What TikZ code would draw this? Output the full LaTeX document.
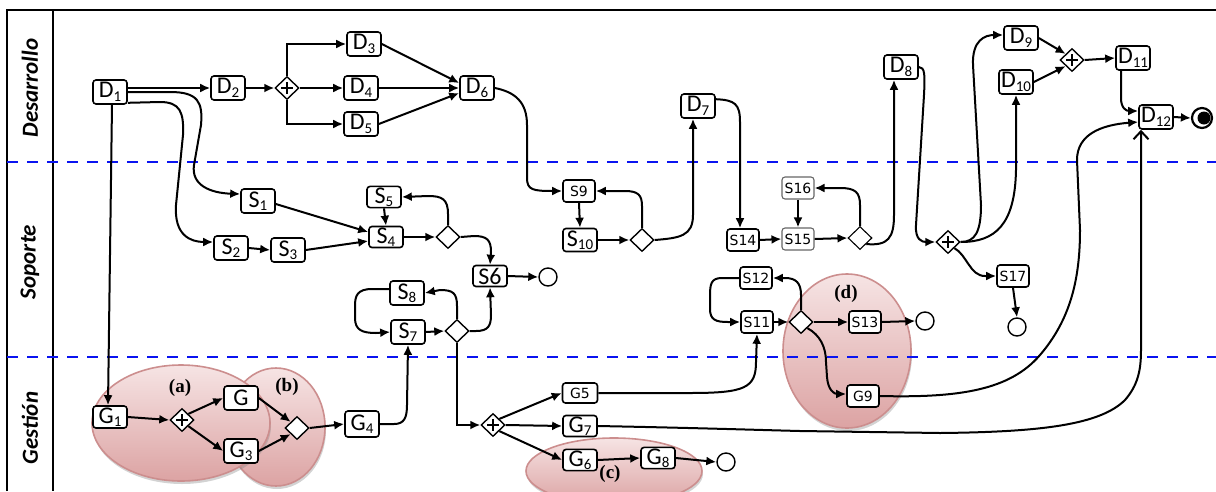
\documentclass[tikz,border=0pt]{standalone}
\usepackage{fontspec}
\setmainfont{Carlito}
\newfontfamily\smallfnt{DejaVu Sans}
\newfontfamily\serifb{Liberation Serif}
\usetikzlibrary{arrows.meta,shapes.geometric,shadows,calc}
\definecolor{blobline}{HTML}{CC8E8E}
\definecolor{blobtop}{HTML}{F6E4E4}
\definecolor{blobbot}{HTML}{DCA3A3}
\definecolor{laneblue}{HTML}{0A14F0}
\newcommand\sbs[1]{\raisebox{-0.3ex}{\fontsize{15}{15}\selectfont #1}}
\begin{document}
\begin{tikzpicture}[x=1pt,y=-1pt,
  box/.style={draw,line width=1.6pt,rounded corners=3pt,fill=white,minimum width=34pt,minimum height=24pt,inner sep=1pt,font=\fontsize{24}{24}\selectfont},
  sbox/.style={box,minimum width=32pt,minimum height=22pt,font=\smallfnt\fontsize{14}{14}\selectfont},
  sboxl/.style={sbox,draw=black!60,line width=1.1pt},
  xgw/.style={diamond,draw,line width=1.4pt,fill=white,minimum width=24pt,minimum height=23pt,inner sep=0pt},
  agw/.style={xgw,path picture={\draw[line width=2pt] ($(path picture bounding box.center)+(-6,0)$) -- +(12,0) ($(path picture bounding box.center)+(0,-6)$) -- +(0,12);}},
  endc/.style={circle,draw,line width=1.4pt,fill=white,minimum size=18pt,inner sep=0pt},
  arr/.style={line width=2pt,-{Latex[length=10pt,width=9pt]}},
  lane/.style={font=\fontsize{23}{23}\selectfont\bfseries\itshape,rotate=90},
  blob/.style={ellipse,draw=blobline,line width=1.6pt,top color=blobtop,bottom color=blobbot,inner sep=0pt,drop shadow={opacity=0.35,shadow xshift=1pt,shadow yshift=-3pt}},
  lab/.style={font=\serifb\bfseries\fontsize{19}{19}\selectfont},
  sep/.style={line width=2pt},
  dsh/.style={draw=laneblue,line width=2.5pt,dash pattern=on 11pt off 9pt}
]
\useasboundingbox (0,0) rectangle (1216,491);
% blobs
\node[blob,minimum width=98pt,minimum height=118pt] (eb) at (276,427) {};
\node[blob,minimum width=178pt,minimum height=116pt] (ea) at (181,423) {};
\node[blob,minimum width=176pt,minimum height=66pt] (ec) at (614,471) {};
\node[blob,minimum width=128pt,minimum height=154pt] (ed) at (847,351) {};
% frame
\draw[sep] (7,491) -- (7,10) -- (1216,10);
\draw[sep] (53,10) -- (53,491);
\draw[dsh] (7,162) -- (1216,162);
\draw[dsh] (7,357) -- (1216,357);
\node[lane] (l1) at (30,88) {Desarrollo};
\node[lane] (l2) at (30,262) {Soporte};
\node[lane] (l3) at (30,428) {Gestión};
% Desarrollo
\node[box] (D1) at (110,92) {D\sbs{1}};
\node[box] (D2) at (228,88) {D\sbs{2}};
\node[agw] (A1) at (287,88) {};
\node[box] (D3) at (364,44) {D\sbs{3}};
\node[box] (D4) at (361,88) {D\sbs{4}};
\node[box] (D5) at (361,124) {D\sbs{5}};
\node[box] (D6) at (477,88) {D\sbs{6}};
\node[box] (D7) at (698,106) {D\sbs{7}};
\node[box] (D8) at (901,67) {D\sbs{8}};
\node[box] (D9) at (1021,38) {D\sbs{9}};
\node[box] (D10) at (1016,82) {D\sbs{10}};
\node[agw] (A3) at (1072,60) {};
\node[box] (D11) at (1133,58) {D\sbs{11}};
\node[box] (D12) at (1156,117) {D\sbs{12}};
\node[circle,draw,line width=2.2pt,minimum size=20pt,inner sep=0pt,fill=white] (EE) at (1202,118) {};
\fill ($(EE.center)+(2,0)$) circle (6.5pt);
% Soporte
\node[box] (S1) at (258,201) {S\sbs{1}};
\node[box] (S2) at (231,248) {S\sbs{2}};
\node[box] (S3) at (288,250) {S\sbs{3}};
\node[box,minimum height=21pt] (S4) at (386,237) {S\sbs{4}};
\node[box,minimum height=21pt] (S5) at (384,197) {S\sbs{5}};
\node[xgw] (X1) at (448,237) {};
\node[box,minimum height=21pt] (S6) at (490,276) {S6};
\node[endc] (E1) at (548,277) {};
\node[box] (S8) at (407,293) {S\sbs{8}};
\node[box] (S7) at (408,332) {S\sbs{7}};
\node[xgw] (X4) at (457,331) {};
\node[sbox] (S9) at (579,191) {S9};
\node[box,minimum height=23pt] (S10) at (580,240) {S\sbs{10}};
\node[xgw] (X2) at (642,240) {};
\node[sbox] (S14) at (743,240) {S14};
\node[sboxl] (S15) at (798,239) {S15};
\node[sboxl] (S16) at (798,188) {S16};
\node[xgw,line width=1.1pt] (X3) at (860,238) {};
\node[agw] (A2) at (948,242) {};
\node[sbox] (S17) at (1013,276) {S17};
\node[endc] (E4) at (1017,327) {};
\node[sbox] (S12) at (756,278) {S12};
\node[sbox] (S11) at (757,322) {S11};
\node[xgw] (X5) at (801,322) {};
\node[sbox] (S13) at (865,322) {S13};
\node[endc] (E2) at (925,321) {};
% Gestion
\node[box,minimum height=22pt] (G1) at (110,417) {G\sbs{1}};
\node[agw] (A0) at (182,420) {};
\node[box] (G2) at (241,398) {G};
\node[box] (G3) at (241,451) {G\sbs{3}};
\node[xgw] (X0) at (297,428) {};
\node[box,minimum height=26pt] (G4) at (362,424) {G\sbs{4}};
\node[agw] (A4) at (493,425) {};
\node[sbox,minimum width=35pt,minimum height=20pt] (G5) at (580,393) {G5};
\node[box,minimum height=21pt] (G7) at (580,426) {G\sbs{7}};
\node[box,minimum height=21pt] (G6) at (580,460) {G\sbs{6}};
\node[box,minimum height=20pt] (G8) at (658,458) {G\sbs{8}};
\node[endc] (E3) at (726,462) {};
\node[sbox] (G9) at (863,396) {G9};
% edges Desarrollo
\draw[arr] (D1.east |- D2.west) -- (D2.west);
\draw[arr] (D2.east) -- (A1.west);
\draw[arr] (A1.north) |- (D3.west);
\draw[arr] (A1.east) -- (D4.west);
\draw[arr] (A1.south) |- (D5.west);
\draw[arr] (D3.east) -- ($(D6.west)+(0,-5)$);
\draw[arr] (D4.east) -- (D6.west);
\draw[arr] (D5.east) -- ($(D6.west)+(0,5)$);
\draw[arr] (D6.east) .. controls (515,92) and (527,102) .. (527,125) -- (527,178) .. controls (527,190) and (533,191) .. (S9.west);
\draw[arr] (S9.south) -- (S10.north);
\draw[arr] (S10.east) -- (X2.west);
\draw[arr] (X2.north) -- (642,206) .. controls (642,195) and (638,191) .. (625,191) -- (S9.east);
\draw[arr] (X2.east) .. controls (680,238) and (693,236) .. (693,215) -- ($(D7.south)+(-5,0)$);
\draw[arr] ($(D7.north east)+(0,6)$) .. controls (735,100) and (740,104) .. (740,122) -- ($(S14.north)+(-3,0)$);
\draw[arr] (S14.east) -- (S15.west);
\draw[arr] (S16.south) -- (S15.north);
\draw[arr] (S15.east) -- (X3.west);
\draw[arr] (X3.north) -- (860,205) .. controls (860,192) and (855,188) .. (840,188) -- (S16.east);
\draw[arr] (X3.south east) .. controls (888,246) and (894,238) .. (894,215) -- ($(D8.south)+(-7,0)$);
\draw[arr] (D8.east) .. controls (925,67) and (925,75) .. (924,95) -- (916,225) .. controls (915,240) and (922,242) .. (A2.west);
\draw[arr] (A2.east) .. controls (975,242) and (981,232) .. (981,205) -- (973,65) .. controls (972,40) and (985,35) .. ($(D9.west)+(0,-3)$);
\draw[arr] (A2.east) .. controls (995,242) and (1015,225) .. (1016,170) -- (D10.south);
\draw[arr] (A2.south east) .. controls (967,255) and (970,276) .. (985,276) -- (S17.west);
\draw[arr] (S17.south) -- (E4.north);
\draw[arr] (D9.east) -- (A3.north west);
\draw[arr] (D10.east) -- (A3.south west);
\draw[arr] (A3.east) -- (D11.west);
\draw[arr] ($(D11.south)+(-12,0)$) -- (1121,98) .. controls (1121,108) and (1126,111) .. ($(D12.west)+(0,-6)$);
\draw[arr] (D12.east) -- (EE.west);
\draw[arr] (G9.east) .. controls (960,398) and (1010,390) .. (1040,355) .. controls (1070,320) and (1080,280) .. (1080,230) -- (1077,160) .. controls (1077,135) and (1100,125) .. ($(D12.west)+(0,5)$);
\draw[line width=2pt,-{Straight Barb[length=8pt,width=15pt]}] (G7.east) .. controls (700,428) and (760,430) .. (800,431) -- (940,433) .. controls (1040,432) and (1100,425) .. (1125,400) .. controls (1138,385) and (1141,370) .. (1141,350) -- ($(D12.south)+(-15,0)$);
% D1 outgoing
\draw[arr] (D1.east) -- (170,92) .. controls (198,92) and (203,102) .. (201,125) -- (194,165) .. controls (191,185) and (210,193) .. ($(S1.west)+(0,-7)$);
\draw[arr] ($(D1.south east)+(0,-2)$) -- (160,102) .. controls (180,102) and (184,112) .. (183,135) -- (176,205) .. controls (174,235) and (190,242) .. ($(S2.west)+(0,-6)$);
\draw[arr] ($(D1.south)+(2,0)$) -- ($(G1.north)+(-2,0)$);
% Soporte edges
\draw[arr] ($(S1.east)+(0,3)$) -- ($(S4.west)+(0,-5)$);
\draw[arr] (S2.east) -- (S3.west);
\draw[arr] (S3.east) -- ($(S4.west)+(0,4)$);
\draw[arr] (S5.south) -- (S4.north);
\draw[arr] (S4.east) -- (X1.west);
\draw[arr] (X1.north) -- (448,214) .. controls (448,199) and (442,196) .. (428,196) -- (S5.east);
\draw[arr] (X1.east) -- (474,236) .. controls (487,236) and (491,240) .. (491,252) -- (S6.north);
\draw[arr] (S6.east) -- (E1.west);
\draw[arr] ($(S8.west)+(0,-4)$) -- (372,289) .. controls (357,289) and (355,296) .. (355,306) -- (355,318) .. controls (355,330) and (362,333) .. (376,333) -- (S7.west);
\draw[arr] (S7.east) -- (X4.west);
\draw[arr] (X4.north) -- (457,306) .. controls (457,293) and (453,290) .. (440,290) -- (S8.east);
\draw[arr] (X4.east) -- (476,331) .. controls (488,331) and (491,326) .. (491,315) -- (S6.south);
\draw[arr] (X4.south) |- (A4.west);
\draw[arr] (G4.east) -- (394,424) .. controls (404,424) and (407,418) .. (407,405) -- (S7.south);
\draw[arr] (G5.east) -- (690,393) .. controls (745,393) and (756,388) .. (756,362) -- (S11.south);
\draw[arr] (S12.west) -- (722,278) .. controls (711,278) and (710,284) .. (710,296) -- (710,309) .. controls (710,320) and (716,322) .. (728,322) -- (S11.west);
\draw[arr] (S11.east) -- (X5.west);
\draw[arr] (X5.north) -- (801,295) .. controls (801,283) and (796,278) .. (785,278) -- (S12.east);
\draw[arr] (X5.east) -- (S13.west);
\draw[arr] (S13.east) -- (E2.west);
\draw[arr] (X5.south east) .. controls (820,335) and (826,347) .. (826,362) -- (827,377) .. controls (828,390) and (834,394) .. ($(G9.west)+(0,-2)$);
% Gestion edges
\draw[arr] (G1.east) -- (A0.west);
\draw[arr] (A0.north east) -- (G2.west);
\draw[arr] (A0.south east) -- (G3.west);
\draw[arr] (G2.east) -- (X0.north west);
\draw[arr] (G3.east) -- (X0.south west);
\draw[arr] (X0.east) -- (G4.west);
\draw[arr] (A4.north east) -- (G5.west);
\draw[arr] (A4.east) -- (G7.west);
\draw[arr] (A4.south east) -- (G6.west);
\draw[arr] (G6.east) -- (G8.west);
\draw[arr] (G8.east) -- (E3.west);
% labels
\node[lab] (la) at (180,388) {(a)};
\node[lab] (lb) at (287,387) {(b)};
\node[lab] (lc) at (610,474) {(c)};
\node[lab] (ld) at (846,294) {(d)};
\end{tikzpicture}
\end{document}
